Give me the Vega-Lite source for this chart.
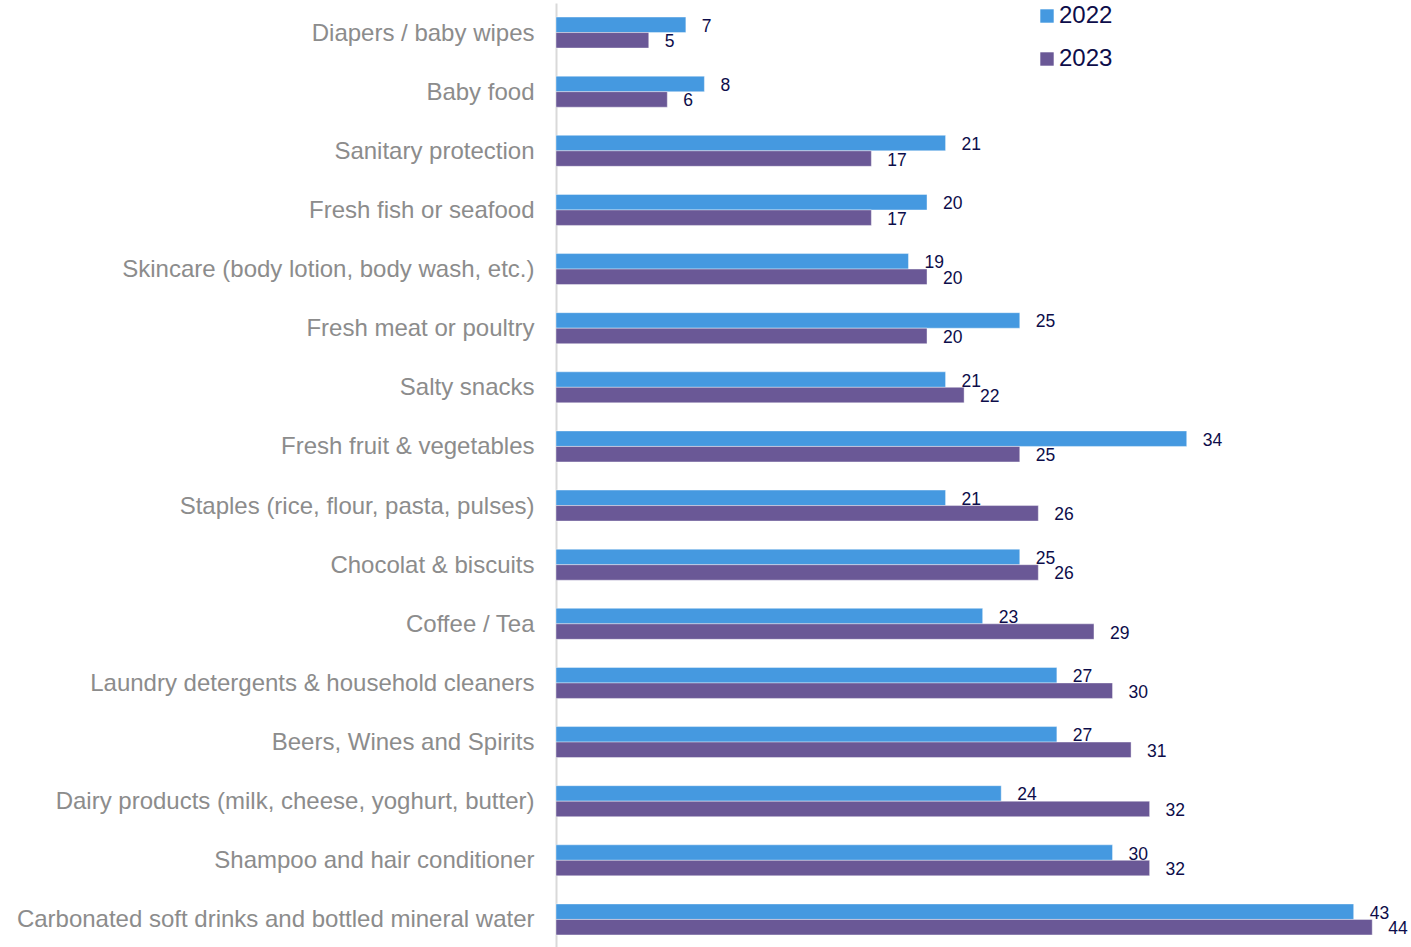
{
  "$schema": "https://vega.github.io/schema/vega-lite/v6.json",
  "width": 855,
  "height": 946,
  "autosize": "none",
  "padding": {"left": 556, "top": 3, "right": 0, "bottom": 0},
  "background": "white",
  "config": {"view": {"stroke": null}, "font": "Liberation Sans"},
  "data": {"values": [
    {"category": "Diapers / baby wipes", "year": "2022", "value": 7},
    {"category": "Diapers / baby wipes", "year": "2023", "value": 5},
    {"category": "Baby food", "year": "2022", "value": 8},
    {"category": "Baby food", "year": "2023", "value": 6},
    {"category": "Sanitary protection", "year": "2022", "value": 21},
    {"category": "Sanitary protection", "year": "2023", "value": 17},
    {"category": "Fresh fish or seafood", "year": "2022", "value": 20},
    {"category": "Fresh fish or seafood", "year": "2023", "value": 17},
    {"category": "Skincare (body lotion, body wash, etc.)", "year": "2022", "value": 19},
    {"category": "Skincare (body lotion, body wash, etc.)", "year": "2023", "value": 20},
    {"category": "Fresh meat or poultry", "year": "2022", "value": 25},
    {"category": "Fresh meat or poultry", "year": "2023", "value": 20},
    {"category": "Salty snacks", "year": "2022", "value": 21},
    {"category": "Salty snacks", "year": "2023", "value": 22},
    {"category": "Fresh fruit & vegetables", "year": "2022", "value": 34},
    {"category": "Fresh fruit & vegetables", "year": "2023", "value": 25},
    {"category": "Staples (rice, flour, pasta, pulses)", "year": "2022", "value": 21},
    {"category": "Staples (rice, flour, pasta, pulses)", "year": "2023", "value": 26},
    {"category": "Chocolat & biscuits", "year": "2022", "value": 25},
    {"category": "Chocolat & biscuits", "year": "2023", "value": 26},
    {"category": "Coffee / Tea", "year": "2022", "value": 23},
    {"category": "Coffee / Tea", "year": "2023", "value": 29},
    {"category": "Laundry detergents & household cleaners", "year": "2022", "value": 27},
    {"category": "Laundry detergents & household cleaners", "year": "2023", "value": 30},
    {"category": "Beers, Wines and Spirits", "year": "2022", "value": 27},
    {"category": "Beers, Wines and Spirits", "year": "2023", "value": 31},
    {"category": "Dairy products (milk, cheese, yoghurt, butter)", "year": "2022", "value": 24},
    {"category": "Dairy products (milk, cheese, yoghurt, butter)", "year": "2023", "value": 32},
    {"category": "Shampoo and hair conditioner", "year": "2022", "value": 30},
    {"category": "Shampoo and hair conditioner", "year": "2023", "value": 32},
    {"category": "Carbonated soft drinks and bottled mineral water", "year": "2022", "value": 43},
    {"category": "Carbonated soft drinks and bottled mineral water", "year": "2023", "value": 44}
  ]},
  "encoding": {
    "y": {
      "field": "category", "type": "nominal", "sort": null,
      "scale": {"paddingInner": 0.476, "paddingOuter": 0.238},
      "axis": {
        "title": null, "ticks": false, "labelPadding": 22, "labelOffset": 1,
        "labelFont": "Liberation Sans", "labelFontSize": 24, "labelColor": "#8c8c8c",
        "labelLimit": 600,
        "domainColor": "#d9d9d9", "domainWidth": 2, "grid": false
      }
    },
    "yOffset": {"field": "year", "type": "nominal", "sort": ["2022", "2023"]},
    "x": {
      "field": "value", "type": "quantitative",
      "scale": {"domain": [0, 46.09], "nice": false, "zero": true},
      "axis": null
    }
  },
  "layer": [
    {
      "mark": {"type": "bar", "stroke": "#ffffff", "strokeOpacity": 0.5, "strokeWidth": 0.8},
      "encoding": {
        "color": {
          "field": "year", "type": "nominal",
          "scale": {"domain": ["2022", "2023"], "range": ["#4599e0", "#6a5896"]},
          "legend": {
            "title": null, "orient": "none", "legendX": 479, "legendY": 1,
            "symbolType": "square", "symbolSize": 180, "symbolStrokeWidth": 0,
            "labelFont": "Liberation Sans", "labelFontSize": 24, "labelColor": "#0d0d4a",
            "rowPadding": 19, "labelOffset": 0
          }
        }
      }
    },
    {
      "mark": {"type": "text", "align": "left", "baseline": "middle", "dx": 16, "dy": 2, "fontSize": 17.5, "font": "Liberation Sans", "color": "#0d0d4a", "clip": false},
      "encoding": {"text": {"field": "value", "type": "quantitative"}}
    }
  ]
}
